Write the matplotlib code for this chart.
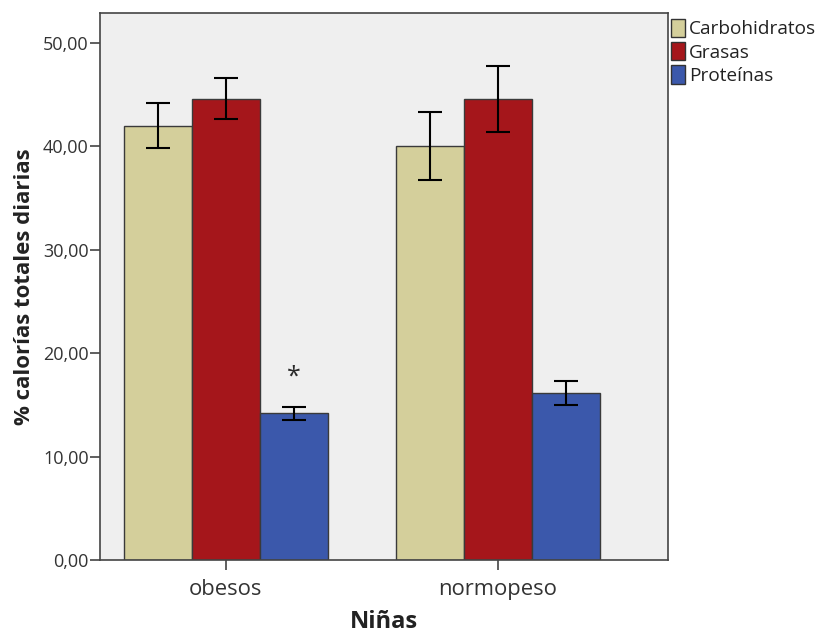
import numpy as np
import matplotlib.pyplot as plt
from matplotlib.ticker import FuncFormatter

plt.rcParams["font.family"] = ["Open Sans", "DejaVu Sans"]

groups = ["obesos", "normopeso"]
nutrients = ["Carbohidratos", "Grasas", "Proteínas"]
colors = ["#d4cf9b", "#a5161b", "#3b58ab"]

# mean % of daily calories, and upper / lower error bar ends
means = {
    "Carbohidratos": [42.0, 40.0],
    "Grasas": [44.6, 44.6],
    "Proteínas": [14.2, 16.2],
}
upper = {
    "Carbohidratos": [44.2, 43.3],
    "Grasas": [46.6, 47.8],
    "Proteínas": [14.8, 17.3],
}
lower = {
    "Carbohidratos": [39.8, 36.8],
    "Grasas": [42.7, 41.4],
    "Proteínas": [13.5, 15.0],
}

fig = plt.figure(figsize=(8.19, 6.39), dpi=100)
ax = fig.add_axes([0.122, 0.1236, 0.6936, 0.856])
ax.set_facecolor("#efefef")

x = np.arange(len(groups))
w = 0.25
for i, name in enumerate(nutrients):
    pos = x + (i - 1) * w
    m = np.array(means[name])
    err = [m - np.array(lower[name]), np.array(upper[name]) - m]
    ax.bar(pos, m, width=w, color=colors[i], edgecolor="#3a3a3a",
           linewidth=1.0, label=name, zorder=2)
    ax.errorbar(pos, m, yerr=err, fmt="none", ecolor="black",
                elinewidth=1.5, capsize=8.5, capthick=1.5, zorder=3)

# significance mark over obese proteins
ax.text(x[0] + w, 16.5, "*", ha="center", va="bottom", fontsize=18,
        color="#2a2a2a")

ax.set_xlim(-0.463, 1.625)
ax.set_ylim(0, 52.9)
ax.set_yticks(np.arange(0, 51, 10))
ax.yaxis.set_major_formatter(FuncFormatter(lambda v, p: f"{v:.2f}".replace(".", ",")))
ax.set_xticks(x)
ax.set_xticklabels(groups)
ax.tick_params(axis="both", labelsize=13, color="#444444", length=7, width=1.2,
               labelcolor="#333333", pad=1)
ax.tick_params(axis="x", labelsize=15.8, pad=7)
for sp in ax.spines.values():
    sp.set_color("#444444")
    sp.set_linewidth(1.2)

ax.set_ylabel("% calorías totales diarias", fontsize=16, fontweight="bold",
              labelpad=6, color="#222222")
ax.set_xlabel("Niñas", fontsize=17, fontweight="bold", labelpad=7, color="#222222")

leg = ax.legend(loc="upper left", bbox_to_anchor=(1.0, 0.995), frameon=False,
                fontsize=13.7, handlelength=0.75, handleheight=1.1,
                handletextpad=0.2, labelspacing=0.2, borderaxespad=0.0,
                borderpad=0.15)
for h in leg.legend_handles:
    h.set_edgecolor("#333333")
for t in leg.get_texts():
    t.set_color("#222222")

fig.savefig("out.png", dpi=100)
